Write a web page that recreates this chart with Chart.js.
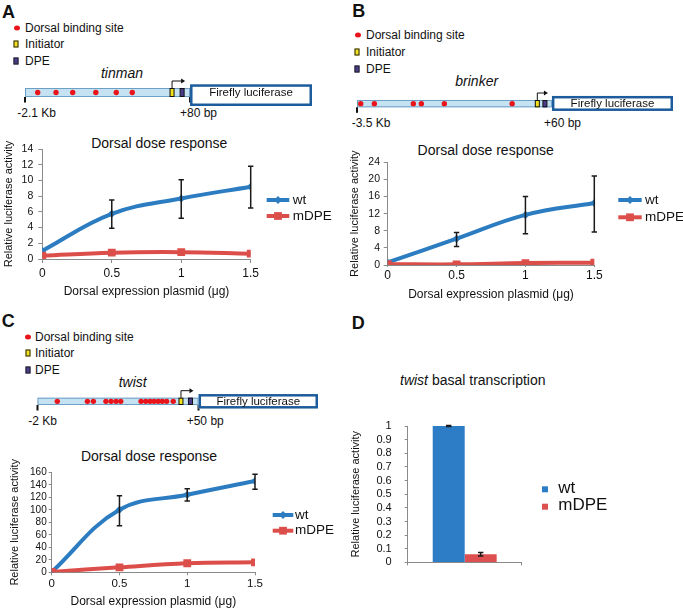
<!DOCTYPE html>
<html>
<head>
<meta charset="utf-8">
<script src="https://cdn.jsdelivr.net/npm/chart.js@4.4.0/dist/chart.umd.min.js"></script>
<style>
html, body { margin: 0; padding: 0; background: #fff; }
#fig { position: relative; width: 683px; height: 608px; overflow: hidden;
  font-family: 'Liberation Sans', Arial, Helvetica, sans-serif; color: #111; }
#fig canvas { position: absolute; }
.t { position: absolute; line-height: 1; white-space: nowrap; transform: translateY(-50%); }
.c { transform: translate(-50%, -50%); }
.p { font-weight: bold; font-size: 18px; }
.k { font-size: 12px; }
.g { font-style: italic; font-size: 14px; }
.h { font-size: 14px; }
.dot { position: absolute; width: 6px; height: 5px; border-radius: 50%; background: #e8141a; transform: translate(-50%, -50%); }
.sq { position: absolute; width: 3px; height: 5px; border: 1px solid #222; transform: translate(-50%, -50%); }
.ini { background: #f2e11b; }
.dpe { background: #4a3b8c; }
</style>
</head>
<body>
<div id="fig">
  <!-- A -->
  <div class="t p" style="left:2px;top:11.7px">A</div>
  <div class="dot" style="left:17.3px;top:28px"></div>
  <div class="t k" style="left:25px;top:27.7px">Dorsal binding site</div>
  <div class="sq ini" style="left:15.7px;top:43.8px"></div>
  <div class="t k" style="left:25px;top:44px">Initiator</div>
  <div class="sq dpe" style="left:15.7px;top:61.2px"></div>
  <div class="t k" style="left:25px;top:61.3px">DPE</div>
  <div class="t c g" style="left:122px;top:72.7px">tinman</div>
  <div class="t k" style="left:17.3px;top:113.3px">-2.1 Kb</div>
  <div class="t k" style="left:180px;top:113.3px">+80 bp</div>
  <div class="t c h" style="left:159.3px;top:143.3px">Dorsal dose response</div>
  <canvas id="schemA" width="340" height="40" style="left:0;top:75px"></canvas>
  <canvas id="doseA" width="340" height="169" style="left:0;top:129px"></canvas>

  <!-- B -->
  <div class="t p" style="left:352.3px;top:11px">B</div>
  <div class="dot" style="left:358px;top:35px"></div>
  <div class="t k" style="left:366px;top:35px">Dorsal binding site</div>
  <div class="sq ini" style="left:357.3px;top:52.3px"></div>
  <div class="t k" style="left:366px;top:52.3px">Initiator</div>
  <div class="sq dpe" style="left:357.3px;top:69.3px"></div>
  <div class="t k" style="left:366px;top:69.3px">DPE</div>
  <div class="t c g" style="left:476.7px;top:81px">brinker</div>
  <div class="t k" style="left:351.7px;top:123.3px">-3.5 Kb</div>
  <div class="t k" style="left:544px;top:123.3px">+60 bp</div>
  <div class="t c h" style="left:485.7px;top:150.3px">Dorsal dose response</div>
  <canvas id="schemB" width="343" height="35" style="left:340px;top:85px"></canvas>
  <canvas id="doseB" width="343" height="164" style="left:340px;top:137px"></canvas>

  <!-- C -->
  <div class="t p" style="left:1.7px;top:321px">C</div>
  <div class="dot" style="left:28.3px;top:336.7px"></div>
  <div class="t k" style="left:35px;top:336.7px">Dorsal binding site</div>
  <div class="sq ini" style="left:28px;top:352.7px"></div>
  <div class="t k" style="left:35px;top:352.7px">Initiator</div>
  <div class="sq dpe" style="left:28px;top:370px"></div>
  <div class="t k" style="left:35px;top:370px">DPE</div>
  <div class="t c g" style="left:132.7px;top:381.7px">twist</div>
  <div class="t k" style="left:28.3px;top:421px">-2 Kb</div>
  <div class="t k" style="left:186.7px;top:421px">+50 bp</div>
  <div class="t c h" style="left:149px;top:456.3px">Dorsal dose response</div>
  <canvas id="schemC" width="340" height="35" style="left:0;top:385px"></canvas>
  <canvas id="doseC" width="340" height="163" style="left:0;top:445px"></canvas>

  <!-- D -->
  <div class="t p" style="left:351.7px;top:322.7px">D</div>
  <div class="t h" style="left:400px;top:380px"><i>twist</i> basal transcription</div>
  <canvas id="basal" width="343" height="182" style="left:340px;top:400px"></canvas>
</div>

<script>
// ---- data ----
const doses = [0, 0.5, 1, 1.5];

const tinmanWt = [1.05, 5.75, 7.7, 9.2];
const tinmanWtLow = [null, 3.9, 5.2, 6.5];
const tinmanWtHigh = [null, 7.5, 10.1, 11.8];
const tinmanMdpe = [0.42, 0.8, 0.87, 0.68];
const tinmanTicks = [0, 2, 4, 6, 8, 10, 12, 14];

const brinkerWt = [0.6, 6.15, 11.7, 14.5];
const brinkerWtLow = [null, 4.3, 7.3, 7.7];
const brinkerWtHigh = [null, 7.6, 16.0, 20.8];
const brinkerMdpe = [0.2, 0.15, 0.45, 0.55];
const brinkerTicks = [0, 4, 8, 12, 16, 20, 24];

const twistWt = [0.5, 100, 124, 146];
const twistWtLow = [null, 74.5, 114, 133];
const twistWtHigh = [null, 122.5, 133.5, 157];
const twistMdpe = [0.5, 8, 14.5, 16];
const twistTicks = [0, 20, 40, 60, 80, 100, 120, 140, 160];

const basalGroups = ['twist'];
const basalWt = [1.0];
const basalWtErr = [0.003];
const basalMdpe = [0.06];
const basalMdpeErr = [0.013];
const basalTicks = [0, 0.1, 0.2, 0.3, 0.4, 0.5, 0.6, 0.7, 0.8, 0.9, 1];

// construct maps: promoter runs 0..100, luciferase follows
const tinmanSites = [7.7, 18.8, 28.9, 42.9, 55.3, 65.0];
const brinkerSites = [1.9, 8.9, 28.9, 33.0, 44.8, 79.6];
const twistSites = [12.3, 31.0, 34.7, 42.5, 45.7, 48.8, 51.7, 64.3, 67.2, 69.9, 72.4, 75.0, 77.5, 80.2, 84.3];
const tinmanCore = [89.1, 95.2];   // initiator, DPE
const brinkerCore = [92.5, 96.4];
const twistCore = [89.1, 95.0];

// ---- style ----
Chart.defaults.font.family = "'Liberation Sans', Arial, Helvetica, sans-serif";
Chart.defaults.color = '#111';
Chart.defaults.animation = false;

const BLUE = '#2b7cc0', RED = '#dc4e4a', AXIS = '#8a8a8a';
const BAR_BLUE = '#2d7cc6', BAR_RED = '#de5050';

// promoter / reporter drawing for the schematic charts
const construct = {
  id: 'construct',
  beforeDatasetsDraw(chart, args, o) {
    const {ctx, chartArea: a, scales: {x}} = chart;
    const x0 = x.getPixelForValue(0), x1 = x.getPixelForValue(100), x2 = x.getPixelForValue(o.lucEnd);
    const cy = (a.top + a.bottom) / 2;
    ctx.save();
    ctx.fillStyle = '#c4e2f2';
    ctx.strokeStyle = '#6e9fc4';
    ctx.lineWidth = 1;
    ctx.fillRect(x0, a.top, x1 - x0, a.bottom - a.top);
    ctx.strokeRect(x0 + 0.5, a.top + 0.5, x1 - x0 - 1, a.bottom - a.top - 1);

    ctx.fillStyle = '#111';
    o.ticks.forEach(t => ctx.fillRect(x.getPixelForValue(t) - 1, a.bottom, 2, 5.5));

    const ini = x.getPixelForValue(o.core[0]), dpe = x.getPixelForValue(o.core[1]);
    [[ini, '#f2e11b'], [dpe, '#4a3b8c']].forEach(([px, col]) => {
      ctx.fillStyle = col;
      ctx.fillRect(px - 2, a.top, 4, a.bottom - a.top);
      ctx.strokeStyle = '#111';
      ctx.strokeRect(px - 2, a.top + 0.5, 4, a.bottom - a.top - 1);
    });

    // TSS arrow
    const ay = a.top - 7;
    ctx.strokeStyle = '#111';
    ctx.beginPath();
    ctx.moveTo(ini, a.top);
    ctx.lineTo(ini, ay);
    ctx.lineTo(dpe - 0.5, ay);
    ctx.stroke();
    ctx.beginPath();
    ctx.moveTo(dpe + 3, ay);
    ctx.lineTo(dpe - 1, ay - 2.5);
    ctx.lineTo(dpe - 1, ay + 2.5);
    ctx.closePath();
    ctx.fillStyle = '#111';
    ctx.fill();

    // luciferase box
    const by = cy - o.up, bh = o.up + o.down;
    ctx.fillStyle = '#fff';
    ctx.fillRect(x1, by, x2 - x1, bh);
    ctx.strokeStyle = '#1d5c9c';
    ctx.lineWidth = 2.5;
    ctx.strokeRect(x1 + 1.25, by + 1.25, x2 - x1 - 2.5, bh - 2.5);
    ctx.fillStyle = '#111';
    ctx.font = "11.5px 'Liberation Sans', Arial, sans-serif";
    ctx.textAlign = 'center';
    ctx.textBaseline = 'middle';
    ctx.fillText('Firefly luciferase', (x1 + x2) / 2, cy);
    ctx.restore();
  }
};

function schematic(id, sites, core, S) {
  return new Chart(document.getElementById(id), {
    type: 'scatter',
    data: { datasets: [{ data: sites.map(v => ({x: v, y: 0})), clip: false,
      backgroundColor: '#e8141a', borderWidth: 0, pointRadius: 2.7 }] },
    options: {
      responsive: false,
      layout: { padding: S.pad },
      scales: { x: { display: false, min: 0, max: S.lucEnd }, y: { display: false, min: -1, max: 1 } },
      plugins: { legend: { display: false }, tooltip: { enabled: false },
        construct: { lucEnd: S.lucEnd, core: core, ticks: S.ticks, up: S.up, down: S.down } }
    },
    plugins: [construct]
  });
}

schematic('schemA', tinmanSites, tinmanCore,
  { pad: {left: 25, right: 28, top: 13, bottom: 18}, lucEnd: 173.9, ticks: [0, 100], up: 8.2, down: 13.5 });
schematic('schemB', brinkerSites, brinkerCore,
  { pad: {left: 17, right: 10, top: 15, bottom: 12.7}, lucEnd: 162.1, ticks: [0], up: 7.7, down: 7.3 });
schematic('schemC', twistSites, twistCore,
  { pad: {left: 37.5, right: 22, top: 12.7, bottom: 15}, lucEnd: 174.2, ticks: [0, 100], up: 7.3, down: 7.2 });

// error bars from errLow / errHigh on a dataset
const errorBars = {
  id: 'errorBars',
  afterDatasetsDraw(chart) {
    const {ctx} = chart, y = chart.scales.y;
    chart.data.datasets.forEach((ds, di) => {
      if (!ds.errLow) return;
      chart.getDatasetMeta(di).data.forEach((el, i) => {
        if (ds.errLow[i] == null) return;
        const lo = y.getPixelForValue(ds.errLow[i]), hi = y.getPixelForValue(ds.errHigh[i]);
        ctx.save();
        ctx.strokeStyle = '#1a1a1a';
        ctx.lineWidth = 1.5;
        ctx.beginPath();
        ctx.moveTo(el.x, lo); ctx.lineTo(el.x, hi);
        ctx.moveTo(el.x - 2.7, lo); ctx.lineTo(el.x + 2.7, lo);
        ctx.moveTo(el.x - 2.7, hi); ctx.lineTo(el.x + 2.7, hi);
        ctx.stroke();
        ctx.restore();
      });
    });
  }
};

function marker(ctx, style, r, x, y) {
  ctx.beginPath();
  if (style === 'rectRot') {
    ctx.moveTo(x - r, y); ctx.lineTo(x, y - r); ctx.lineTo(x + r, y); ctx.lineTo(x, y + r);
  } else {
    const h = r * Math.SQRT1_2;
    ctx.rect(x - h, y - h, 2 * h, 2 * h);
  }
  ctx.closePath();
  ctx.fill();
}

// Excel-like legend to the right of the plot
const sideLegend = {
  id: 'sideLegend',
  afterDraw(chart, args, o) {
    const {ctx} = chart;
    chart.data.datasets.forEach((ds, i) => {
      const y = o.y + i * o.gap;
      ctx.save();
      if (o.box) {
        ctx.fillStyle = ds.backgroundColor;
        ctx.fillRect(o.x - 3, y - 3, 6, 6);
      } else {
        ctx.strokeStyle = ds.borderColor;
        ctx.lineWidth = 4;
        ctx.beginPath(); ctx.moveTo(o.x, y); ctx.lineTo(o.x + o.len, y); ctx.stroke();
        ctx.fillStyle = ds.borderColor;
        marker(ctx, ds.pointStyle, ds.pointRadius, o.x + o.len / 2, y);
      }
      ctx.fillStyle = '#111';
      ctx.font = o.font + "px 'Liberation Sans', Arial, sans-serif";
      ctx.textBaseline = 'middle';
      ctx.fillText(ds.label, o.x + o.len + o.pad, y + (o.dy || 0));
      ctx.restore();
    });
  }
};

const plain = v => String(v);

function doseChart(id, wt, wtLow, wtHigh, mdpe, yTicks, L) {
  const pts = v => doses.map((d, i) => ({x: d, y: v[i]}));
  return new Chart(document.getElementById(id), {
    type: 'line',
    data: { datasets: [
      { label: 'wt', data: pts(wt), errLow: wtLow, errHigh: wtHigh, order: 1,
        borderColor: BLUE, backgroundColor: BLUE, borderWidth: 4, tension: 0.4,
        pointStyle: 'rectRot', pointRadius: 4, pointBorderWidth: 0 },
      { label: 'mDPE', data: pts(mdpe), order: 0,
        borderColor: RED, backgroundColor: RED, borderWidth: 4, tension: 0.4,
        pointStyle: 'rect', pointRadius: 5.5, pointBorderWidth: 0 }
    ]},
    options: {
      responsive: false,
      layout: { padding: L.pad },
      scales: {
        x: {
          type: 'linear', min: 0, max: 1.5,
          afterBuildTicks: s => { s.ticks = doses.map(v => ({value: v})); },
          grid: { drawOnChartArea: false, tickLength: L.xTick, color: AXIS },
          border: { color: AXIS },
          ticks: { padding: L.xPad, font: { size: L.xFont }, autoSkip: false, maxRotation: 0, callback: plain },
          title: { display: true, text: 'Dorsal expression plasmid (μg)', font: { size: 12, lineHeight: 1 }, padding: 0 },
          afterFit: s => { s.height = L.xH; }
        },
        y: {
          min: 0, max: yTicks[yTicks.length - 1],
          afterBuildTicks: s => { s.ticks = yTicks.map(v => ({value: v})); },
          grid: { drawOnChartArea: false, tickLength: L.yTick, color: AXIS },
          border: { color: AXIS },
          ticks: { padding: L.yPad, font: { size: L.yFont }, autoSkip: false, callback: plain },
          title: { display: true, text: 'Relative luciferase activity', font: { size: 11 }, padding: { top: L.yT, bottom: 0 } },
          afterFit: s => { s.width = L.yW; }
        }
      },
      plugins: { legend: { display: false }, tooltip: { enabled: false }, sideLegend: L.legend }
    },
    plugins: [errorBars, sideLegend]
  });
}

doseChart('doseA', tinmanWt, tinmanWtLow, tinmanWtHigh, tinmanMdpe, tinmanTicks, {
  pad: {left: 0, right: 89.3, top: 20, bottom: 0}, xH: 39, yW: 42.3, yT: 2.4,
  xTick: 4, xPad: 3.8, xFont: 12, yTick: 4, yPad: 5, yFont: 10.5,
  legend: {x: 266.7, y: 71, gap: 16, len: 22.6, pad: 3.4, font: 13.5}
});
doseChart('doseB', brinkerWt, brinkerWtLow, brinkerWtHigh, brinkerMdpe, brinkerTicks, {
  pad: {left: 0, right: 88.7, top: 25.3, bottom: 0}, xH: 36, yW: 47.7, yT: 8.4,
  xTick: 2, xPad: 1.8, xFont: 12, yTick: 4, yPad: 3.7, yFont: 10.5,
  legend: {x: 278.3, y: 63, gap: 17.3, len: 23.4, pad: 3.4, font: 13.5}
});
doseChart('doseC', twistWt, twistWtLow, twistWtHigh, twistMdpe, twistTicks, {
  pad: {left: 0, right: 85, top: 27.3, bottom: 0}, xH: 35.7, yW: 51.7, yT: 8.4,
  xTick: 3, xPad: 1.8, xFont: 11.5, yTick: 3, yPad: 2, yFont: 10,
  legend: {x: 272.7, y: 70, gap: 15.7, len: 20.6, pad: 1.8, font: 13.5}
});

new Chart(document.getElementById('basal'), {
  type: 'bar',
  data: {
    labels: basalGroups,
    datasets: [
      { label: 'wt', data: basalWt, backgroundColor: BAR_BLUE,
        errLow: basalWt.map((v, i) => v - basalWtErr[i]), errHigh: basalWt.map((v, i) => v + basalWtErr[i]),
        categoryPercentage: 0.561, barPercentage: 1 },
      { label: 'mDPE', data: basalMdpe, backgroundColor: BAR_RED,
        errLow: basalMdpe.map((v, i) => v - basalMdpeErr[i]), errHigh: basalMdpe.map((v, i) => v + basalMdpeErr[i]),
        categoryPercentage: 0.561, barPercentage: 1 }
    ]
  },
  options: {
    responsive: false,
    layout: { padding: {left: 0, right: 161.3, top: 26, bottom: 0} },
    scales: {
      x: {
        grid: { drawOnChartArea: false, tickLength: 3, color: AXIS },
        border: { color: AXIS },
        ticks: { display: false },
        afterFit: s => { s.height = 10; }
      },
      y: {
        min: 0, max: 1,
        afterBuildTicks: s => { s.ticks = basalTicks.map(v => ({value: v})); },
        grid: { drawOnChartArea: false, tickLength: 3, color: AXIS },
        border: { color: AXIS },
        ticks: { padding: 13, font: { size: 11 }, autoSkip: false, callback: plain },
        title: { display: true, text: 'Relative luciferase activity', font: { size: 11 }, padding: { top: 9.4, bottom: 0 } },
        afterFit: s => { s.width = 67.7; }
      }
    },
    plugins: { legend: { display: false }, tooltip: { enabled: false },
      sideLegend: { box: true, x: 205, y: 89.3, gap: 17.4, len: 0, pad: 13.3, font: 17, dy: -1 } }
  },
  plugins: [errorBars, sideLegend]
});
</script>
</body>
</html>
